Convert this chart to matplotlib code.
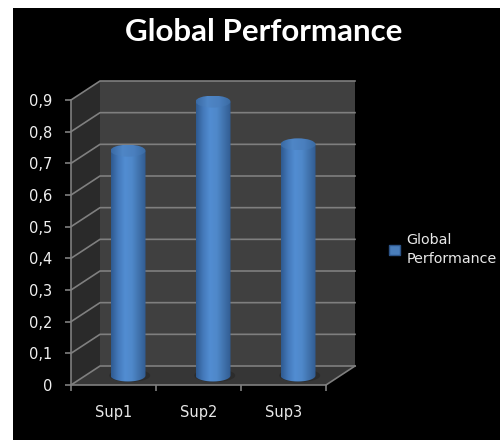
import numpy as np
import matplotlib
matplotlib.use('Agg')
import matplotlib.pyplot as plt
from matplotlib.colors import LinearSegmentedColormap
from matplotlib.patches import Ellipse, Patch, Polygon, Rectangle

categories = ['Sup1', 'Sup2', 'Sup3']
values = [0.71, 0.865, 0.73]
y_ticks = [0, 0.1, 0.2, 0.3, 0.4, 0.5, 0.6, 0.7, 0.8, 0.9]
y_labels = ['0', '0,1', '0,2', '0,3', '0,4', '0,5', '0,6', '0,7', '0,8', '0,9']
series_name = 'Global\nPerformance'

# depth of the fake 3d box, in data units
dx = 29 / 85
dy = 19 / 316.7
n = len(categories)
top = y_ticks[-1]
grid_col = '#7f7f7f'

fig = plt.figure(figsize=(5, 4.4), dpi=100, facecolor='white')
# screenshot has a white strip on the left and top
fig.patches.append(Rectangle((13 / 500, 0), 487 / 500, 432 / 440, transform=fig.transFigure, fc='black', ec='none', zorder=-5))
ax = fig.add_axes([71 / 500, 55 / 440, 255 / 500, 285 / 440])
ax.set_facecolor('none')

# walls and floor
ax.add_patch(Polygon([(0, 0), (dx, dy), (dx, top + dy), (0, top)], fc='#2a2a2a', ec='none', zorder=1, clip_on=False))
ax.add_patch(Polygon([(dx, dy), (n + dx, dy), (n + dx, top + dy), (dx, top + dy)], fc='#404040', ec='none', zorder=1, clip_on=False))
ax.add_patch(Polygon([(0, 0), (n, 0), (n + dx, dy), (dx, dy)], fc='#363636', ec='none', zorder=1, clip_on=False))

for t in y_ticks:
    ax.plot([0, dx, n + dx], [t, t + dy, t + dy], color=grid_col, lw=1.2, zorder=2, clip_on=False)
ax.plot([n, n + dx], [0, dy], color=grid_col, lw=1.2, zorder=2, clip_on=False)

# cylinders
body_cmap = LinearSegmentedColormap.from_list('body', ['#2f5a90', '#4479ba', '#528dd2', '#4f88ca', '#4173ad', '#315c92'])
cap_cmap = LinearSegmentedColormap.from_list('cap', ['#3a6aa4', '#4f86c6', '#4a7fbe', '#3a6aa2'])
half_w = 17.5 / 85
ry = 6 / 316.7
grad = np.linspace(0, 1, 64).reshape(1, -1)
theta = np.linspace(np.pi, 2 * np.pi, 40)

for i, v in enumerate(values):
    cx = i + 0.5 + dx / 2
    y0 = dy / 2
    ax.add_patch(Ellipse((cx + 0.02, y0), 2 * half_w + 0.07, 2 * ry + 0.003, fc='#2c2c2c', ec='none', zorder=3, clip_on=False))
    xs = cx + half_w * np.cos(theta)
    ys = y0 + ry * np.sin(theta)
    outline = np.column_stack([np.r_[xs, cx + half_w, cx - half_w], np.r_[ys, v + y0, v + y0]])
    clip = Polygon(outline, fc='none', ec='none')
    ax.add_patch(clip)
    im = ax.imshow(grad, cmap=body_cmap, extent=[cx - half_w, cx + half_w, y0 - ry, v + y0], aspect='auto', zorder=4)
    im.set_clip_path(clip)
    im.set_clip_box(fig.bbox)
    clip.set_clip_on(False)
    cap = Ellipse((cx, v + y0), 2 * half_w, 2 * ry, fc='none', ec='none', zorder=5)
    ax.add_patch(cap)
    im2 = ax.imshow(grad, cmap=cap_cmap, extent=[cx - half_w, cx + half_w, v + y0 - ry, v + y0 + ry], aspect='auto', zorder=5)
    im2.set_clip_path(cap)
    im2.set_clip_box(fig.bbox)

ax.set_xlim(0, n)
ax.set_ylim(0, top)

for s in ['top', 'right']:
    ax.spines[s].set_visible(False)
for s in ['left', 'bottom']:
    ax.spines[s].set_color(grid_col)
    ax.spines[s].set_linewidth(1.2)
    ax.spines[s].set_zorder(6)

ax.set_yticks(y_ticks)
ax.set_yticklabels(y_labels)
ax.set_xticks(np.arange(n + 1))
ax.set_xticklabels([''] * (n + 1))
ax.set_xticks(np.arange(n) + 0.5, minor=True)
ax.set_xticklabels(categories, minor=True)
ax.tick_params(axis='both', which='major', color=grid_col, length=4.5, width=1.2, labelcolor='#f0f0f0', labelsize=10.5)
ax.tick_params(axis='y', pad=9)
ax.tick_params(axis='x', which='minor', length=0, labelcolor='#e8e8e8', labelsize=10.5, pad=14.5)

fig.text(264 / 500, 1 - 32 / 440, 'Global Performance', color='white', fontsize=22.5, fontweight='bold',
         family='Lato', ha='center', va='center')

leg = fig.legend(handles=[Patch(fc='#4a7ebb', ec='#2c5488', label=series_name)],
                 loc='upper left', bbox_to_anchor=(385 / 500, 1 - 229 / 440), frameon=False,
                 labelcolor='#e8e8e8', fontsize=10.3, handlelength=0.75, handleheight=0.75,
                 handletextpad=0.45, labelspacing=0, borderpad=0.3, borderaxespad=0)
for t in leg.get_texts():
    t.set_linespacing(1.42)

fig.savefig('out.png', dpi=100, facecolor='white')
